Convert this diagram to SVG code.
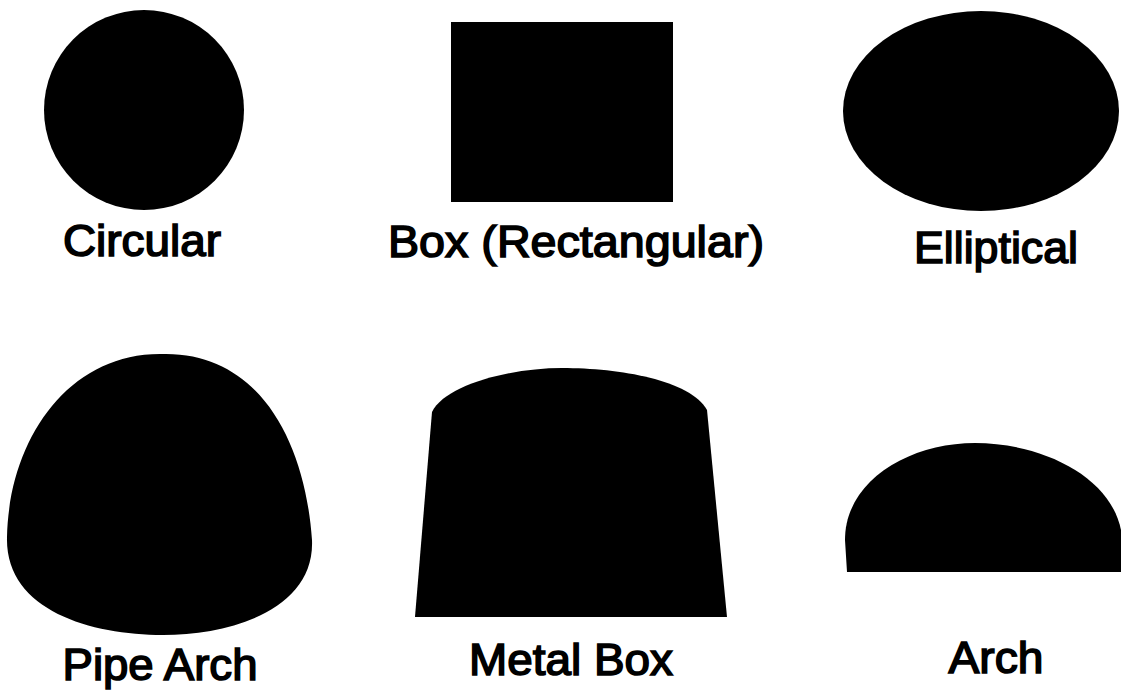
<svg xmlns="http://www.w3.org/2000/svg" width="1121" height="691" viewBox="0 0 1121 691">
<style>
.shape{fill:#000;stroke:none}
.lbl{font-family:"Liberation Sans",Arial,sans-serif;font-weight:normal;font-size:45px;fill:#000;stroke:#000;stroke-width:1.6px;text-anchor:middle}
</style>
<rect width="1121" height="691" fill="#fff"/>
<g id="circular">
<circle class="shape" cx="144" cy="110" r="100"/>
<text class="lbl" x="142" y="256" textLength="158" lengthAdjust="spacingAndGlyphs">Circular</text>
</g>
<g id="box">
<rect class="shape" x="451" y="22" width="222" height="180"/>
<text class="lbl" x="576" y="257" textLength="376" lengthAdjust="spacingAndGlyphs">Box (Rectangular)</text>
</g>
<g id="elliptical">
<ellipse class="shape" cx="981" cy="111" rx="138" ry="100"/>
<text class="lbl" x="996" y="263" textLength="164" lengthAdjust="spacingAndGlyphs">Elliptical</text>
</g>
<g id="pipe-arch">
<path class="shape" d="M163 354 C258 352 305 440 312 540 C315 610 230 635 163 635 C90 635 5 610 7 537 C9 440 68 352 163 354 Z"/>
<text class="lbl" x="160" y="680" textLength="195" lengthAdjust="spacingAndGlyphs">Pipe Arch</text>
</g>
<g id="metal-box">
<path class="shape" d="M415 617 L432 412 C445 385 510 368 562 368 C620 368 690 380 707 410 L727 617 Z"/>
<text class="lbl" x="571" y="675" textLength="204" lengthAdjust="spacingAndGlyphs">Metal Box</text>
</g>
<g id="arch">
<path class="shape" d="M847 572 L845 540 C845 480 910 443 975 443 C1040 443 1110 475 1121 530 L1121 572 Z"/>
<text class="lbl" x="996" y="673" textLength="95" lengthAdjust="spacingAndGlyphs">Arch</text>
</g>
<g id="connectors"></g>
</svg>
